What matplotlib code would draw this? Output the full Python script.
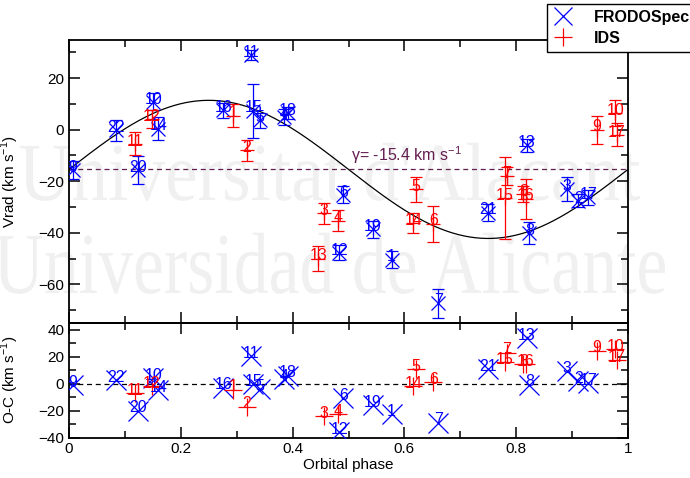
import numpy as np
import matplotlib
matplotlib.use("Agg")
import matplotlib.pyplot as plt
from matplotlib.lines import Line2D
from matplotlib.ticker import MultipleLocator
from matplotlib.textpath import TextPath
from matplotlib.patches import PathPatch
from matplotlib.font_manager import FontProperties
from matplotlib.transforms import Affine2D, IdentityTransform

plt.rcParams["font.family"] = ["Liberation Sans", "DejaVu Sans"]

# ---------------- FRODOSpec radial velocities ----------------
frodo_label = [9, 22, 20, 10, 14, 16, 11, 15, 5, 4, 18, 12, 6, 19, 1, 7, 21, 13, 8, 3, 2, 17]
frodo_phase = [0.007, 0.084, 0.124, 0.151, 0.160, 0.276, 0.326, 0.330, 0.341, 0.385, 0.392,
               0.4835, 0.491, 0.543, 0.577, 0.661, 0.750, 0.819, 0.8235, 0.890, 0.911, 0.929]
frodo_vrad = [-15.6, -0.3, -15.6, 10.8, 0.4, 7.5, 29.0, 7.4, 3.6, 5.0, 6.5,
              -47.8, -25.3, -38.7, -50.4, -67.3, -32.2, -6.1, -40.0, -23.0, -27.6, -26.3]
frodo_err = [3.6, 3.9, 5.5, 3.3, 4.5, 2.9, 2.0, 10.5, 3.0, 3.0, 2.5,
             2.9, 3.3, 3.3, 3.4, 5.6, 3.3, 2.6, 4.2, 4.6, 2.5, 2.9]
frodo_oc = [-1.0, 2.5, -20.0, 4.2, -5.0, -3.0, 20.5, -0.5, -4.0, 3.5, 6.0,
            -36.0, -11.0, -16.0, -22.5, -29.0, 11.0, 33.5, -0.8, 9.3, 1.8, 0.6]

# ---------------- IDS radial velocities ----------------
# spectrum 13 falls below the O-C window, so it has no residual entry
ids_label = [11, 12, 1, 2, 13, 3, 4, 14, 5, 6, 15, 7, 8, 16, 9, 10, 17]
ids_phase = [0.118, 0.148, 0.294, 0.318, 0.446, 0.456, 0.482, 0.616, 0.621, 0.652,
             0.780, 0.783, 0.813, 0.8175, 0.944, 0.977, 0.980]
ids_vrad = [-5.5, 4.0, 5.5, -8.0, -50.0, -32.5, -35.3, -36.2, -23.2, -36.5,
            -26.5, -18.0, -25.0, -26.8, 0.0, 6.5, -2.0]
ids_err = [4.5, 3.5, 4.4, 4.0, 4.7, 4.2, 4.0, 3.7, 4.7, 7.0,
           16.0, 3.5, 3.0, 7.7, 5.5, 5.0, 4.5]
ids_oc = [-7.0, -2.0, -4.5, -17.0, np.nan, -24.2, -22.5, -2.0, 11.0, 1.0,
          16.0, 23.0, 14.5, 14.5, 24.5, 25.8, 17.5]

# ---------------- orbital fit ----------------
gamma = -15.4   # systemic velocity (km/s)
K = 26.8        # semi-amplitude (km/s)

BLUE = "#0000ff"
RED = "#ff0000"
PURPLE = "#641e50"

W, H = 690, 478
fig = plt.figure(figsize=(W / 100, H / 100), dpi=100)


def watermark(text, x0, x1, baseline, xheight):
    """Faint condensed serif lettering behind the plot (pixel coordinates)."""
    prop = FontProperties(family="Liberation Serif")
    tp = TextPath((0, 0), text, size=1, prop=prop)
    ext = tp.get_extents()
    sx = (x1 - x0) / ext.width
    sy = xheight / 0.46
    tr = Affine2D().translate(-ext.x0, 0).scale(sx, sy).translate(x0, H - baseline)
    patch = PathPatch(tr.transform_path(tp), transform=IdentityTransform(),
                      facecolor="#f0f0f0", edgecolor="none", zorder=-5)
    fig.add_artist(patch)


watermark("Universitat d'Alacant", 20, 640, 200, 38)
watermark("Universidad de Alicante", -5, 665, 293, 40)

ax1 = fig.add_axes([69 / W, 1 - 323 / H, 559 / W, (323 - 39.5) / H])
ax2 = fig.add_axes([69 / W, 1 - 437.5 / H, 559 / W, (437.5 - 323) / H])
for ax in (ax1, ax2):
    ax.set_facecolor("none")
    for s in ax.spines.values():
        s.set_linewidth(1.3)
    ax.set_xlim(0, 1)
    ax.xaxis.set_major_locator(MultipleLocator(0.2))
    ax.xaxis.set_minor_locator(MultipleLocator(0.1))
    ax.yaxis.set_major_locator(MultipleLocator(20))
    ax.yaxis.set_minor_locator(MultipleLocator(10))
    ax.tick_params(which="both", direction="in", top=True, right=True,
                   labelsize=11, width=1.1)
    ax.tick_params(which="major", length=8)
    ax.tick_params(which="minor", length=5)

ax1.set_ylim(-75, 35)
ax2.set_ylim(-40, 45)
ax1.tick_params(labelbottom=False)

# fitted orbit and systemic velocity
ph = np.linspace(0, 1, 400)
ax1.plot(ph, gamma + K * np.sin(2 * np.pi * ph), color="black", lw=0.9, zorder=2)
ax1.axhline(gamma, color=PURPLE, lw=0.9, ls=(0, (4, 3)), zorder=2)
ax1.text(0.505, gamma + 1.2, "\u03b3= -15.4 km s$^{\\mathregular{-1}}$",
         color=PURPLE, fontsize=11.5, ha="left", va="bottom")
ax2.axhline(0, color="black", lw=0.9, ls=(0, (4, 3)), zorder=2)

ebkw = dict(elinewidth=0.9, capsize=4.3, capthick=0.9, mew=0.9, ms=10, zorder=3)
ax1.errorbar(frodo_phase, frodo_vrad, yerr=frodo_err, fmt="x", color=BLUE, **ebkw)
ax1.errorbar(ids_phase, ids_vrad, yerr=ids_err, fmt="+", color=RED, **ebkw)
ax2.plot(frodo_phase, frodo_oc, "x", color=BLUE, ms=14.5, mew=0.9, zorder=3)
ax2.plot(ids_phase, ids_oc, "+", color=RED, ms=12.5, mew=0.9, zorder=3)


def number_points(ax, xs, ys, labels, color):
    for x, y, lab in zip(xs, ys, labels):
        if np.isnan(y):
            continue
        t = ax.annotate(str(lab), (x, y), xytext=(0, 2), textcoords="offset points",
                        ha="center", va="center", color=color, fontsize=11.5, zorder=4)
        t.set_clip_on(True)


number_points(ax1, frodo_phase, frodo_vrad, frodo_label, BLUE)
number_points(ax1, ids_phase, ids_vrad, ids_label, RED)
number_points(ax2, frodo_phase, frodo_oc, frodo_label, BLUE)
number_points(ax2, ids_phase, ids_oc, ids_label, RED)

ax2.set_xticks([0, 0.2, 0.4, 0.6, 0.8, 1.0])
ax2.set_xticklabels(["0", "0.2", "0.4", "0.6", "0.8", "1"])
ax2.set_xlabel("Orbital phase", fontsize=11, labelpad=1)
ax1.set_ylabel(r"Vrad (km s$^{\mathregular{-1}}$)", fontsize=11)
ax2.set_ylabel(r"O-C (km s$^{\mathregular{-1}}$)", fontsize=11)
ax1.yaxis.set_label_coords(-0.086, 0.5)
ax2.yaxis.set_label_coords(-0.086, 0.5)

handles = [Line2D([], [], ls="none", marker="x", color=BLUE, ms=13, mew=0.9),
           Line2D([], [], ls="none", marker="+", color=RED, ms=13, mew=0.9)]
leg = fig.legend(handles, ["FRODOSpec", "IDS"], loc="upper left",
                 bbox_to_anchor=(546.5 / W, 1 - 4 / H), frameon=True, fancybox=False,
                 edgecolor="black", framealpha=1, prop={"weight": "bold", "size": 11.5},
                 handlelength=1.4, handletextpad=1.2, labelspacing=0.4,
                 borderpad=0.35, borderaxespad=0)
leg.get_frame().set_linewidth(1.0)

fig.savefig("out.png", dpi=100)
